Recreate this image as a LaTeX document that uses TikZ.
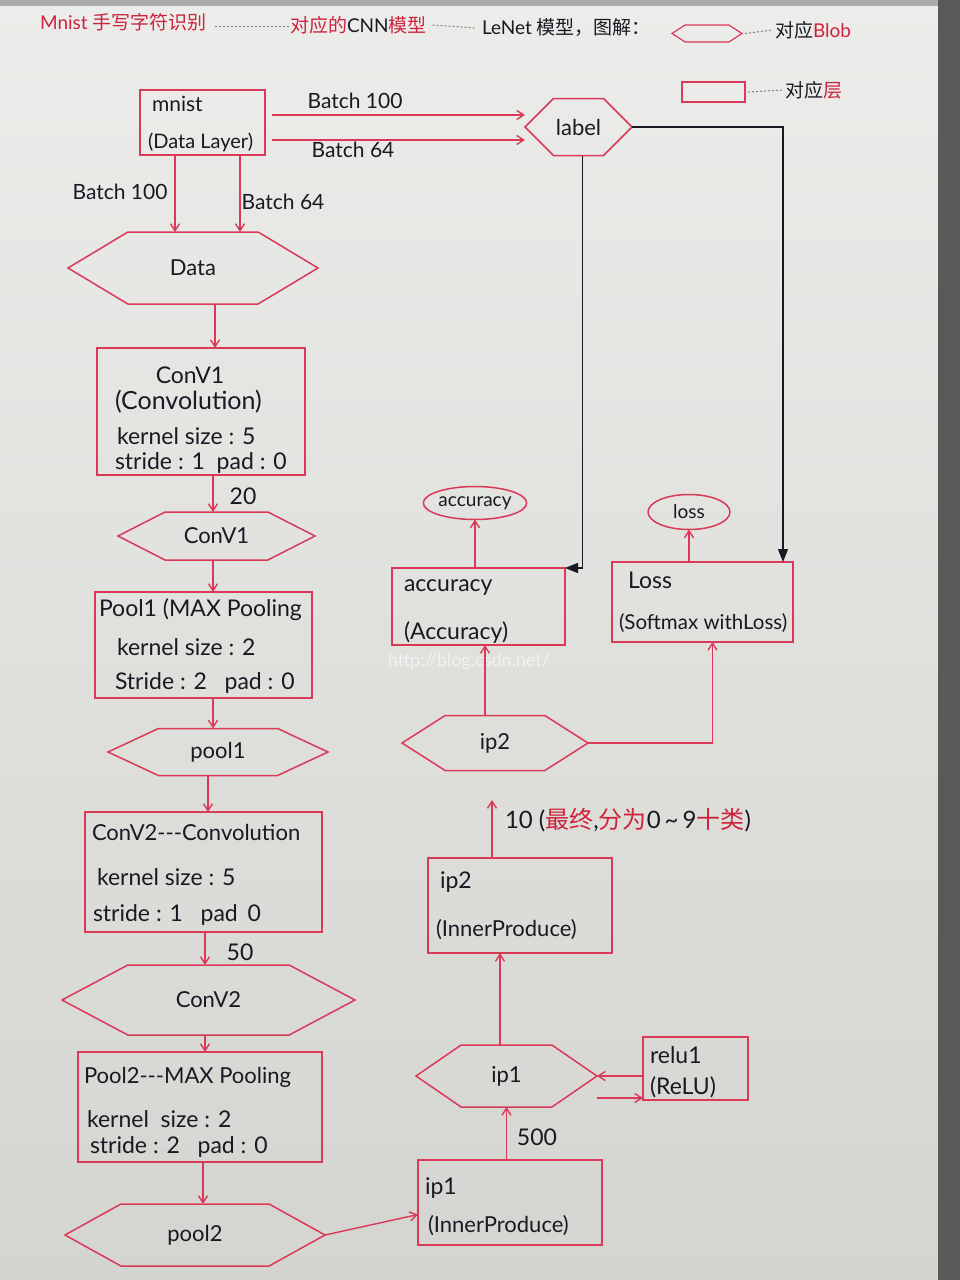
\documentclass[tikz,border=0pt]{standalone}
\usepackage{fontspec}
\setmainfont{Lato}
\newfontfamily\cjk{Noto Sans CJK SC}
\usetikzlibrary{shapes.symbols,shapes.geometric,arrows.meta}
\definecolor{penred}{RGB}{218,58,88}
\definecolor{inkred}{RGB}{205,35,60}
\definecolor{ink}{RGB}{25,25,35}
\definecolor{paper}{RGB}{236,236,234}
\definecolor{paperlow}{RGB}{212,212,208}
\begin{document}
\begin{tikzpicture}[x=1pt,y=-1pt,
  every node/.style={inner sep=0pt,outer sep=0pt,text=ink},
  hand/.style={font=\fontsize{23}{25}\selectfont},
  handl/.style={hand,anchor=west},
  layerbox/.style={draw=penred,line width=1.5pt,rectangle},
  blob/.style={draw=penred,line width=1.5pt,signal,signal to=east and west,font=\fontsize{22}{24}\selectfont},
  outblob/.style={draw=penred,line width=1.5pt,ellipse,font=\fontsize{19}{20}\selectfont},
  arr/.style={draw=penred,line width=1.4pt,-{Straight Barb[length=7pt,width=9pt]}},
  blackarr/.style={draw=ink,line width=1.2pt,-{Triangle[length=13pt,width=10pt]}},
  legdash/.style={draw=gray,line width=1pt,dash pattern=on 2pt off 2pt},
  hdr/.style={anchor=west,font=\fontsize{19}{20}\selectfont}]
\useasboundingbox (0,0) rectangle (960,1280);
\shade[top color=paper,bottom color=paperlow] (0,0) rectangle (960,1280);
\fill[gray!65] (0,0) rectangle (960,6);
\fill[gray!70!black] (938,0) rectangle (960,1280);

% ---- header / legend
\node[hdr,text=inkred] (h1) at (40,22) {Mnist {\cjk 手写字符识别}};
\node[hdr] (h2) at (290,25) {{\cjk\color{inkred}对应的}CNN{\cjk\color{inkred}模型}};
\node[hdr] (h3) at (482,28) {LeNet {\cjk 模型，图解：}};
\draw[legdash] (h1.east) ++(8,4) coordinate (hd1) -- (hd1 -| h2.west);
\draw[legdash] ([xshift=6pt]h2.east) -- ([xshift=-6pt]h3.west);
\node[blob,minimum width=70pt,minimum height=17pt,signal pointer angle=66,line width=1.2pt] (lhex) at (707,33.5) {};
\node[hdr] (h4) at (775,30) {{\cjk 对应}{\color{inkred}Blob}};
\draw[legdash] ([xshift=3pt]lhex.east) -- ([xshift=-3pt]h4.west);
\node[layerbox,minimum width=63pt,minimum height=20pt,line width=1.2pt] (lrect) at (713.5,92) {};
\node[hdr] (h5) at (785,90) {{\cjk 对应\color{inkred}层}};
\draw[legdash] ([xshift=3pt]lrect.east) -- ([xshift=-3pt]h5.west);

% ---- left column
\node[layerbox,minimum width=125pt,minimum height=65pt] (mnist) at (202.5,122.5) {};
\node[handl,font=\fontsize{21}{22}\selectfont] (mnistt) at (152,104) {mnist};
\node[handl,font=\fontsize{20}{22}\selectfont] (mnistt2) at (148,142) {(Data Layer)};

\node[blob,minimum width=107pt,minimum height=57pt,signal pointer angle=90] (label) at (578.5,127) {label};

\node[blob,minimum width=250pt,minimum height=72pt,signal pointer angle=62] (data) at (193,268) {Data};

\node[layerbox,minimum width=208pt,minimum height=127pt] (conv1) at (201,411.5) {};
\node[hand] (conv1a) at (190,375) {ConV1};
\node[handl,font=\fontsize{25}{26}\selectfont] (conv1b) at (115,402) {(Convolution)};
\node[handl] (conv1c) at (117,436) {kernel size : 5};
\node[handl] (conv1d) at (115,463) {stride : 1 \ pad : 0};

\node[blob,minimum width=197pt,minimum height=48pt,signal pointer angle=54] (conv1h) at (216.5,536) {ConV1};

\node[layerbox,minimum width=217pt,minimum height=106pt] (pool1) at (203.5,645) {};
\node[handl] (pool1a) at (99,610) {Pool1 (MAX Pooling};
\node[handl] (pool1b) at (117,647) {kernel size : 2};
\node[handl] (pool1c) at (115,683) {Stride : 2 \ \ pad : 0};

\node[blob,minimum width=220pt,minimum height=47pt,signal pointer angle=50] (pool1h) at (218,752) {pool1};

\node[layerbox,minimum width=237pt,minimum height=120pt] (conv2) at (203.5,872) {};
\node[handl,font=\fontsize{22}{24}\selectfont] (conv2a) at (92,832) {ConV2-{}-{}-Convolution};
\node[handl] (conv2b) at (97,877) {kernel size : 5};
\node[handl] (conv2c) at (93,915) {stride : 1 \ \ pad \,0};

\node[blob,minimum width=293pt,minimum height=70pt,signal pointer angle=56] (conv2h) at (208.5,1000) {ConV2};

\node[layerbox,minimum width=244pt,minimum height=110pt] (pool2) at (200,1107) {};
\node[handl,font=\fontsize{22}{24}\selectfont] (pool2a) at (84,1077) {Pool2-{}-{}-MAX Pooling};
\node[handl] (pool2b) at (87,1119) {kernel \ size : 2};
\node[handl] (pool2c) at (90,1147) {stride : 2 \ \ pad : 0};

\node[blob,minimum width=260pt,minimum height=62pt,signal pointer angle=58] (pool2h) at (195,1235) {pool2};

% ---- right column
\node[layerbox,minimum width=184pt,minimum height=85pt] (ip1b) at (510,1202.5) {};
\node[handl] (ip1ba) at (425,1188) {ip1};
\node[handl,font=\fontsize{22}{24}\selectfont] (ip1bb) at (428,1226) {(InnerProduce)};

\node[blob,minimum width=181pt,minimum height=62pt,signal pointer angle=69] (ip1h) at (506.5,1076) {ip1};

\node[layerbox,minimum width=105pt,minimum height=63pt] (relu) at (695.5,1068.5) {};
\node[handl] (relua) at (650,1055) {relu1};
\node[handl] (relub) at (650,1087) {(ReLU)};

\node[layerbox,minimum width=184pt,minimum height=95pt] (ip2b) at (520,905.5) {};
\node[handl] (ip2ba) at (440,882) {ip2};
\node[handl,font=\fontsize{22}{24}\selectfont] (ip2bb) at (436,930) {(InnerProduce)};

\node[blob,minimum width=186pt,minimum height=55pt,signal pointer angle=65] (ip2h) at (495,743) {ip2};

\node[layerbox,minimum width=173pt,minimum height=77pt] (accb) at (478.5,606.5) {};
\node[handl] (accba) at (404,588) {accuracy};
\node[handl] (accbb) at (404,633) {(Accuracy)};

\node[layerbox,minimum width=181pt,minimum height=80pt] (lossb) at (702.5,602) {};
\node[handl] (lossba) at (628,580) {Loss};
\node[handl,font=\fontsize{20.5}{22}\selectfont] (lossbb) at (619,623) {(Softmax withLoss)};

\node[outblob,minimum width=86pt,minimum height=33pt] (acce) at (475,503) {accuracy};
\node[outblob,minimum width=82pt,minimum height=35pt] (losse) at (689,512) {loss};

\node[anchor=west,text=white!90!gray,font=\rmfamily\fontsize{18}{20}\selectfont] (wm) at (388,662) {http://blog.csdn.net/};

% ---- edge labels
\node[hand,font=\fontsize{21}{22}\selectfont] (lb1) at (355,101) {Batch 100};
\node[hand,font=\fontsize{21}{22}\selectfont] (lb2) at (353,150) {Batch 64};
\node[hand,font=\fontsize{21}{22}\selectfont] (lb3) at (120,192) {Batch 100};
\node[hand,font=\fontsize{21}{22}\selectfont] (lb4) at (283,202) {Batch 64};
\node[hand] (lb20) at (243,496) {20};
\node[hand] (lb50) at (240,952) {50};
\node[hand] (lb500) at (537,1137) {500};
\node[anchor=west,font=\fontsize{24}{26}\selectfont] (lb10) at (505,820) {10 ({\cjk\color{inkred}最终},{\cjk\color{inkred}分为}0\,\textasciitilde\,9{\cjk\color{inkred}十类})};

% ---- connectors
\coordinate (m1) at (272,115);
\coordinate (m2) at (272,140);
\draw[arr] (m1) -- (m1 -| label.west);
\draw[arr] (m2) -- (m2 -| label.west);
\coordinate (x175) at (175,0);
\coordinate (x240) at (240,0);
\coordinate (x215) at (215,0);
\coordinate (x213) at (213,0);
\coordinate (x208) at (208,0);
\coordinate (x205) at (205,0);
\coordinate (x203) at (203,0);
\draw[arr] (mnist.south -| x175) -- (data.north -| x175);
\draw[arr] (mnist.south -| x240) -- (data.north -| x240);
\draw[arr] (data.south -| x215) -- (conv1.north -| x215);
\draw[arr] (conv1.south -| x213) -- (conv1h.north -| x213);
\draw[arr] (conv1h.south -| x213) -- (pool1.north -| x213);
\draw[arr] (pool1.south -| x213) -- (pool1h.north -| x213);
\draw[arr] (pool1h.south -| x208) -- (conv2.north -| x208);
\draw[arr] (conv2.south -| x205) -- (conv2h.north -| x205);
\draw[arr] (conv2h.south -| x205) -- (pool2.north -| x205);
\draw[arr] (pool2.south -| x203) -- (pool2h.north -| x203);
\draw[arr] (pool2h.east) -- ([yshift=-12pt]ip1b.west);
\draw[arr] (ip1h.south |- ip1b.north) -- (ip1h.south);
\draw[arr] (relu.west |- ip1h.east) -- (ip1h.east);
\coordinate (r2) at ([yshift=-22pt]ip1h.east);
\draw[arr] (r2) -- (r2 -| relu.west);
\coordinate (x500) at (500,0);
\draw[arr] (ip1h.north -| x500) -- (ip2b.south -| x500);
\coordinate (tenarrow) at (492,800);
\draw[arr] (ip2b.north -| tenarrow) -- (tenarrow);
\coordinate (x485) at (485,0);
\draw[arr] (ip2h.north -| x485) -- (accb.south -| x485);
\draw[arr] (ip2h.east) -| ([xshift=10pt]lossb.south);
\draw[arr] (acce.south |- accb.north) -- (acce.south);
\draw[arr] (losse.south |- lossb.north) -- (losse.south);
\draw[blackarr] ([xshift=4pt]label.south) |- (accb.north east);
\coordinate (lk) at (783,127);
\draw[blackarr] (label.east) -- (lk) -- (lk |- lossb.north);
\end{tikzpicture}
\end{document}
